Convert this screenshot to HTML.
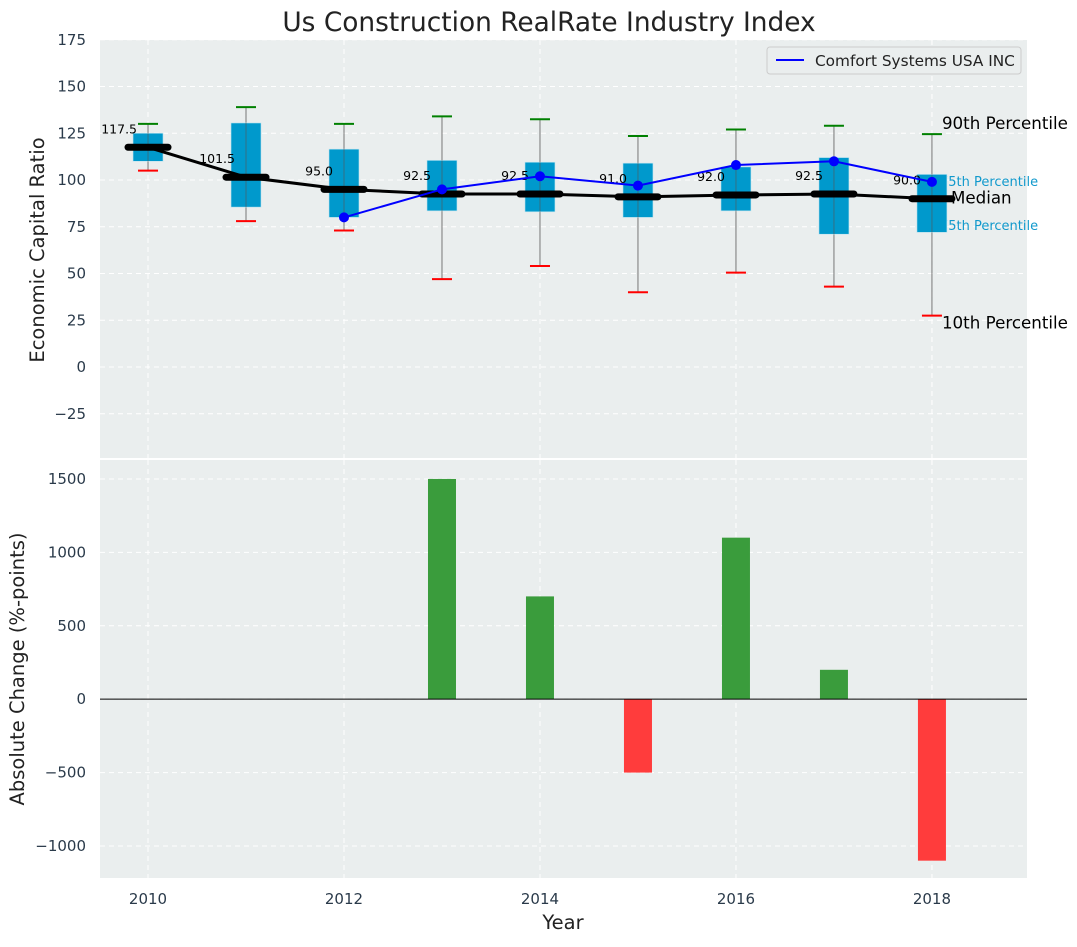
<!DOCTYPE html>
<html><head><meta charset="utf-8"><style>
body{margin:0;background:#fff;}
svg{font-family:"DejaVu Sans","Liberation Sans",sans-serif;}
</style></head><body>
<svg id="chart" width="1077" height="942" xmlns="http://www.w3.org/2000/svg">
<text x="549" y="31" text-anchor="middle" font-size="26.4" fill="#222">Us Construction RealRate Industry Index</text>
<rect x="100" y="40" width="927" height="418" fill="#eaeeee"/>
<rect x="100" y="460" width="927" height="418" fill="#eaeeee"/>
<g id="gtop"></g><g id="gbot"></g>
<text transform="translate(44,250) rotate(-90)" text-anchor="middle" font-size="19.5" fill="#222">Economic Capital Ratio</text>
<text transform="translate(24,669) rotate(-90)" text-anchor="middle" font-size="19.5" fill="#222">Absolute Change (%-points)</text>
<text x="563" y="929" text-anchor="middle" font-size="19.5" fill="#222">Year</text>
<g>
<rect x="767" y="47" width="254" height="27" rx="3" fill="#eaeeee" stroke="#ccc"/>
<line x1="776" y1="60" x2="804" y2="60" stroke="#0000ff" stroke-width="2"/>
<text x="815" y="66" font-size="15.3" fill="#222">Comfort Systems USA INC</text>
</g>
</svg>
<script>
const years=[2010,2011,2012,2013,2014,2015,2016,2017,2018];
const p10=[105,78,73,47,54,40,50.5,43,27.5];
const q1=[110,85.5,80,83.5,83,80,83.5,71,72];
const median=[117.5,101.5,95,92.5,92.5,91,92,92.5,90];
const q3=[125,130.5,116.5,110.5,109.5,109,107,112,103];
const p90=[130,139,130,134,132.5,123.5,127,129,124.5];
const company=[null,null,80,95,102,97,108,110,99];
const changeYears=[2013,2014,2015,2016,2017,2018];
const changes=[1500,700,-500,1100,200,-1100];
const topTicks=[-25,0,25,50,75,100,125,150,175];
const botTicks=[-1000,-500,0,500,1000,1500];
const xTicks=[2010,2012,2014,2016,2018];

const NS="http://www.w3.org/2000/svg";
const X=v=>100+(v-2009.51)/(2018.97-2009.51)*927;
const YT=v=>367-v*1.87;
const YB=v=>460+(1629-v)/(1629+1218)*418;
function mk(p,tag,at,txt){const e=document.createElementNS(NS,tag);for(const k in at)e.setAttribute(k,at[k]);if(txt!==undefined)e.textContent=txt;p.appendChild(e);return e;}
const gTop=document.getElementById('gtop'),gBot=document.getElementById('gbot');
topTicks.forEach(t=>{const y=YT(t);
 const g=mk(gTop,'line',{x1:100,x2:1027,y1:y,y2:y,stroke:'#fff','stroke-dasharray':'5,4','stroke-width':1});
 
 const l=mk(gTop,'text',{x:86,y:y+5,'text-anchor':'end','font-size':15,fill:'#2a3a4a'},t<0?'\u2212'+Math.abs(t):t);
 });
botTicks.forEach(t=>{const y=YB(t);
 const g=mk(gBot,'line',{x1:100,x2:1027,y1:y,y2:y,stroke:'#fff','stroke-dasharray':'5,4','stroke-width':1});
 
 const l=mk(gBot,'text',{x:86,y:y+5,'text-anchor':'end','font-size':15,fill:'#2a3a4a'},t<0?'\u2212'+Math.abs(t):t);
 });
xTicks.forEach(t=>{const x=X(t);
 [[40,458],[460,878]].forEach(r=>{const g=mk(gTop,'line',{x1:x,x2:x,y1:r[0],y2:r[1],stroke:'#fff','stroke-dasharray':'5,4'});
 });
 const l=mk(gBot,'text',{x:x,y:904,'text-anchor':'middle','font-size':15,fill:'#2a3a4a'},t);
 });
const lx=X(2018);
let t1=mk(gTop,'text',{x:lx+8,y:YT(76)+5,'font-size':13,fill:'#1199cc'},'75th Percentile');

let t2=mk(gTop,'text',{x:lx+8,y:YT(99.5)+5,'font-size':13,fill:'#1199cc'},'75th Percentile');

years.forEach((yr,i)=>{const x=X(yr);
 const w=mk(gTop,'line',{x1:x,x2:x,y1:YT(p90[i]),y2:YT(p10[i]),stroke:'#777','stroke-width':1});
 
 const b=mk(gTop,'rect',{x:x-15,y:YT(q3[i]),width:30,height:YT(q1[i])-YT(q3[i]),fill:'#0099cc',stroke:'#bfe4f0','stroke-width':0.6});
 
 const w2=mk(gTop,'line',{x1:x,x2:x,y1:YT(q3[i]),y2:YT(q1[i]),stroke:'#555','stroke-width':1,opacity:0.6});
 
 const c1=mk(gTop,'line',{x1:x-10,x2:x+10,y1:YT(p90[i]),y2:YT(p90[i]),stroke:'#008000','stroke-width':2});
 
 const c2=mk(gTop,'line',{x1:x-10,x2:x+10,y1:YT(p10[i]),y2:YT(p10[i]),stroke:'#ff0000','stroke-width':2});
 
});
const mp=mk(gTop,'polyline',{points:years.map((y,i)=>X(y)+','+YT(median[i])).join(' '),fill:'none',stroke:'#000','stroke-width':3});

years.forEach((yr,i)=>{const x=X(yr),y=YT(median[i]);
 const m=mk(gTop,'line',{x1:x-20,x2:x+20,y1:y,y2:y,stroke:'#000','stroke-width':7,'stroke-linecap':'round'});
 
 const l=mk(gTop,'text',{x:x-11,y:y-14,'text-anchor':'end','font-size':12.5,fill:'#000'},median[i].toFixed(1));
 });
const pts=years.map((y,i)=>company[i]==null?null:[X(y),YT(company[i])]).filter(p=>p);
const cl=mk(gTop,'polyline',{points:pts.map(p=>p.join(',')).join(' '),fill:'none',stroke:'#0000ff','stroke-width':2});

pts.forEach(p=>{const c=mk(gTop,'circle',{cx:p[0],cy:p[1],r:5,fill:'#0000ff'});
 });
let a=mk(gTop,'text',{x:lx+10,y:YT(p90[8])-5,'font-size':16.7,fill:'#000'},'90th Percentile');

a=mk(gTop,'text',{x:lx+19,y:YT(median[8])+5,'font-size':16.7,fill:'#000'},'Median');

a=mk(gTop,'text',{x:lx+10,y:YT(p10[8])+13,'font-size':16.7,fill:'#000'},'10th Percentile');

changeYears.forEach((yr,i)=>{const x=X(yr),v=changes[i];
 const y0=YB(0),y1=YB(v);
 const r=mk(gBot,'rect',{x:x-14,y:Math.min(y0,y1),width:28,height:Math.abs(y1-y0),fill:v>=0?'#3a9c3c':'#ff3c3c'});
 });
const z=mk(gBot,'line',{x1:100,x2:1027,y1:YB(0),y2:YB(0),stroke:'#000','stroke-width':1});

</script>
</body></html>
